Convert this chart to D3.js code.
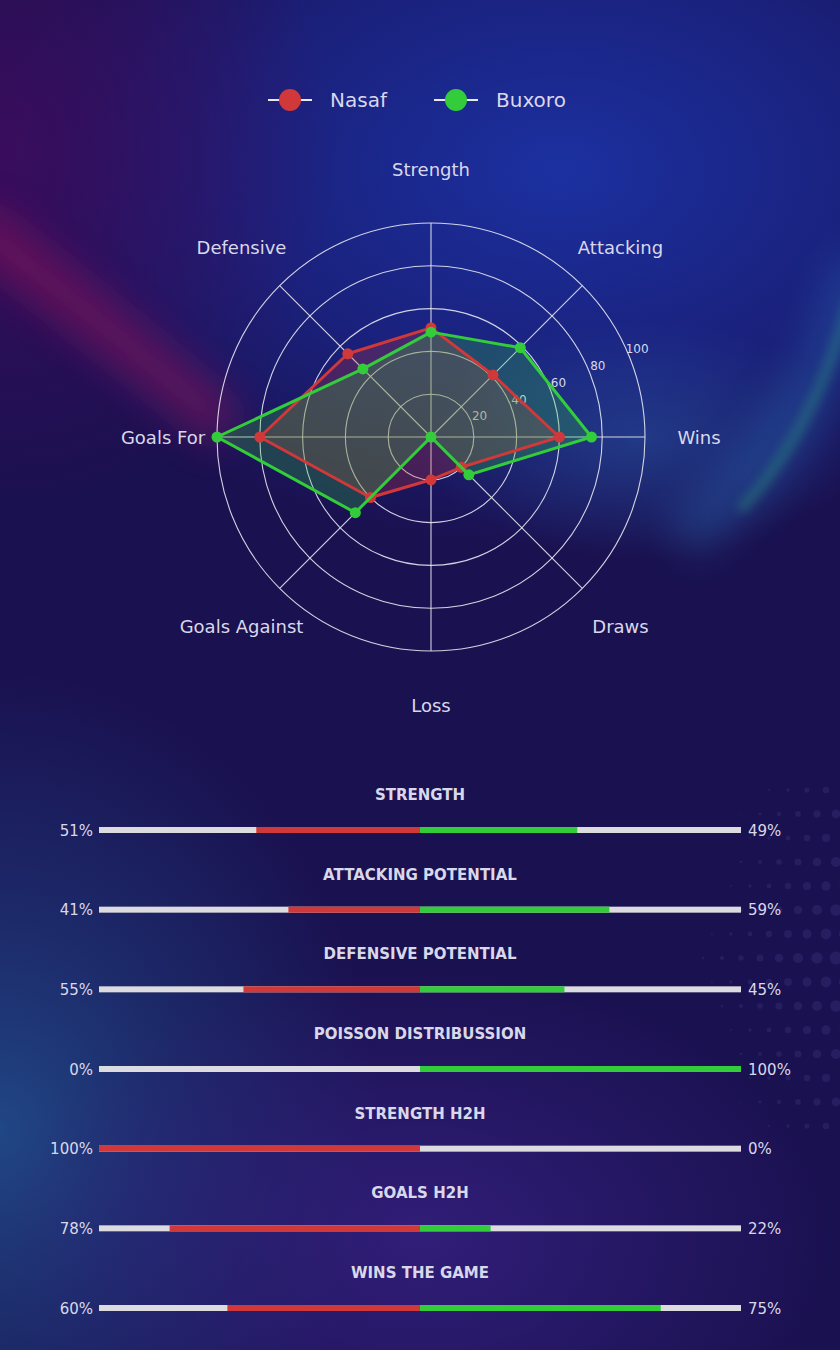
<!DOCTYPE html>
<html>
<head>
<meta charset="utf-8">
<script src="https://cdn.jsdelivr.net/npm/d3@7"></script>
<style>
  html, body { margin: 0; padding: 0; background: #1b1150; }
  svg { display: block; font-family: "DejaVu Sans", sans-serif; }
</style>
</head>
<body>
<svg id="chart" width="840" height="1350"></svg>
<script>
// radar data
const axes = ['Strength', 'Attacking', 'Wins', 'Draws', 'Loss', 'Goals Against', 'Goals For', 'Defensive'];
const nasafValues = [51, 41, 60, 20, 20, 40, 80, 55];
const buxoroValues = [49, 59, 75, 25, 0, 50, 100, 45];
const ringTicks = [20, 40, 60, 80, 100];

// comparison bars
const barTitles = ['STRENGTH', 'ATTACKING POTENTIAL', 'DEFENSIVE POTENTIAL', 'POISSON DISTRIBUSSION', 'STRENGTH H2H', 'GOALS H2H', 'WINS THE GAME'];
const homePct = [51, 41, 55, 0, 100, 78, 60];
const awayPct = [49, 59, 45, 100, 0, 22, 75];

const teams = ['Nasaf', 'Buxoro'];
const teamColors = {'Nasaf': '#d0383a', 'Buxoro': '#33cc3a'};
const textColor = '#d9d8ea';

let svg = d3.select('#chart');
let defs = svg.append('defs');

// ---- background ----
const radial = (id, stops) => {
    let g = defs.append('radialGradient').attr('id', id);
    stops.forEach(s => g.append('stop').attr('offset', s[0]).attr('stop-color', s[1]).attr('stop-opacity', s[2]));
};
radial('gBlue', [[0, '#1c34aa', 0.9], [0.55, '#1a2c9a', 0.6], [1, '#1a2c9a', 0]]);
radial('gPurple', [[0, '#3d0c5e', 0.9], [1, '#3d0c5e', 0]]);
radial('gBotBlue', [[0, '#22508e', 0.85], [0.5, '#1f3f80', 0.5], [1, '#1f3f80', 0]]);
radial('gBotPurple', [[0, '#352080', 0.85], [1, '#352080', 0]]);
radial('gTeal', [[0, '#2a5ea8', 0.45], [1, '#2a5ea8', 0]]);

const addBlur = (id, sd) => defs.append('filter').attr('id', id)
    .attr('x', '-50%').attr('y', '-50%').attr('width', '200%').attr('height', '200%')
    .append('feGaussianBlur').attr('stdDeviation', sd);
addBlur('blur', 20);
addBlur('blurSmall', 6);

let bg = svg.append('g').attr('class', 'background');
bg.append('rect').attr('width', 840).attr('height', 1350).attr('fill', '#1a1150');
bg.append('ellipse').attr('cx', 560).attr('cy', 170).attr('rx', 580).attr('ry', 380).attr('fill', 'url(#gBlue)');
bg.append('ellipse').attr('cx', 0).attr('cy', 150).attr('rx', 340).attr('ry', 360).attr('fill', 'url(#gPurple)');
bg.append('ellipse').attr('cx', 640).attr('cy', 440).attr('rx', 220).attr('ry', 120).attr('fill', 'url(#gTeal)');
bg.append('ellipse').attr('cx', 0).attr('cy', 1130).attr('rx', 380).attr('ry', 460).attr('fill', 'url(#gBotBlue)');
bg.append('ellipse').attr('cx', 420).attr('cy', 1240).attr('rx', 420).attr('ry', 280).attr('fill', 'url(#gBotPurple)');

// red glow swoosh on the left
bg.append('path')
    .attr('d', 'M -30 220 Q 100 320 230 430')
    .attr('fill', 'none').attr('stroke', '#b0145a').attr('stroke-width', 45).attr('opacity', 0.45)
    .attr('filter', 'url(#blur)');

// green glow swoosh on the right
bg.append('path')
    .attr('d', 'M 860 260 Q 810 440 680 540')
    .attr('fill', 'none').attr('stroke', '#2b7bc8').attr('stroke-width', 50).attr('opacity', 0.3)
    .attr('filter', 'url(#blur)');
bg.append('path')
    .attr('d', 'M 850 300 Q 815 430 740 510')
    .attr('fill', 'none').attr('stroke', '#2fc080').attr('stroke-width', 7).attr('opacity', 0.45)
    .attr('filter', 'url(#blurSmall)');

// faint dots pattern at the right
let dots = bg.append('g').attr('fill', '#6a5cb8').attr('opacity', 0.16);
for (let row = 0; row < 15; row++) {
    for (let col = 0; col < 9; col++) {
        let x = 845 - col * 19 - (row % 2) * 9;
        let y = 790 + row * 24;
        let r = Math.max(0, 6.5 - col * 0.75 - Math.abs(row - 7) * 0.35);
        if (r > 0.6) dots.append('circle').attr('cx', x).attr('cy', y).attr('r', r);
    }
}

// ---- legend ----
let legend = svg.append('g').attr('class', 'legend');
const legendX = [268, 434];
teams.forEach((t, i) => {
    let g = legend.append('g').attr('transform', 'translate(' + legendX[i] + ',100)');
    g.append('line').attr('x1', 0).attr('x2', 44).attr('stroke', '#e8e8f0').attr('stroke-width', 2);
    g.append('circle').attr('cx', 22).attr('r', 11).attr('fill', teamColors[t]);
    g.append('text').attr('x', 62).attr('y', 7).attr('fill', textColor).style('font-size', '20px').text(t);
});

// ---- radar ----
const cx = 431, cy = 437, R = 214;
let rScale = d3.scaleLinear().domain([0, 100]).range([0, R]);
let angle = i => i * 2 * Math.PI / axes.length;

let radar = svg.append('g').attr('transform', 'translate(' + cx + ',' + cy + ')');

radar.selectAll('circle.ring')
    .data(ringTicks)
    .enter()
    .append('circle')
    .attr('class', 'ring')
    .attr('r', d => rScale(d))
    .attr('fill', 'none')
    .attr('stroke', '#e6e6f0')
    .attr('stroke-width', 1.1)
    .attr('opacity', 0.9);

radar.selectAll('line.spoke')
    .data(axes)
    .enter()
    .append('line')
    .attr('class', 'spoke')
    .attr('x2', (d, i) => rScale(100) * Math.sin(angle(i)))
    .attr('y2', (d, i) => -rScale(100) * Math.cos(angle(i)))
    .attr('stroke', '#e6e6f0')
    .attr('stroke-width', 1.1)
    .attr('opacity', 0.9);

const tickAngle = 67 * Math.PI / 180;
radar.selectAll('text.tick')
    .data(ringTicks)
    .enter()
    .append('text')
    .attr('class', 'tick')
    .attr('x', d => (rScale(d) + 10) * Math.sin(tickAngle))
    .attr('y', d => -(rScale(d) + 10) * Math.cos(tickAngle))
    .attr('text-anchor', 'middle')
    .attr('dominant-baseline', 'central')
    .attr('fill', textColor)
    .style('font-size', '12px')
    .text(d => d);

radar.selectAll('text.axis-label')
    .data(axes)
    .enter()
    .append('text')
    .attr('class', 'axis-label')
    .attr('x', (d, i) => 268 * Math.sin(angle(i)))
    .attr('y', (d, i) => -268 * Math.cos(angle(i)))
    .attr('text-anchor', 'middle')
    .attr('dominant-baseline', 'central')
    .attr('fill', textColor)
    .style('font-size', '18px')
    .text(d => d);

let radialLine = d3.lineRadial()
    .angle((d, i) => angle(i))
    .radius(d => rScale(d))
    .curve(d3.curveLinearClosed);

const seriesData = [
    {team: 'Nasaf', values: nasafValues},
    {team: 'Buxoro', values: buxoroValues}
];

// fills first, then outlines and markers on top
radar.selectAll('path.area')
    .data(seriesData)
    .enter()
    .append('path')
    .attr('class', 'area')
    .attr('d', d => radialLine(d.values))
    .attr('fill', d => teamColors[d.team])
    .attr('fill-opacity', 0.25)
    .attr('stroke', 'none');

let series = radar.selectAll('g.series')
    .data(seriesData)
    .enter()
    .append('g')
    .attr('class', 'series');

series.append('path')
    .attr('d', d => radialLine(d.values))
    .attr('fill', 'none')
    .attr('stroke', d => teamColors[d.team])
    .attr('stroke-width', 3)
    .attr('stroke-linejoin', 'round');

series.selectAll('circle')
    .data(d => d.values.map(v => ({team: d.team, v: v})))
    .enter()
    .append('circle')
    .attr('cx', (d, i) => rScale(d.v) * Math.sin(angle(i)))
    .attr('cy', (d, i) => -rScale(d.v) * Math.cos(angle(i)))
    .attr('r', 5.5)
    .attr('fill', d => teamColors[d.team]);

// ---- comparison bars ----
const barLeft = 99, barRight = 741, barMid = (barLeft + barRight) / 2;
let half = d3.scaleLinear().domain([0, 100]).range([0, barMid - barLeft]);
let rowY = d3.scaleLinear().domain([0, barTitles.length - 1]).range([830, 1308]);

let bars = svg.selectAll('g.bar-row')
    .data(barTitles)
    .enter()
    .append('g')
    .attr('class', 'bar-row')
    .attr('transform', (d, i) => 'translate(0,' + rowY(i) + ')');

bars.append('text')
    .attr('x', 420)
    .attr('y', -30)
    .attr('text-anchor', 'middle')
    .attr('fill', textColor)
    .style('font-size', '15px')
    .style('font-weight', 'bold')
    .text(d => d);

bars.append('rect')
    .attr('x', barLeft).attr('y', -3)
    .attr('width', barRight - barLeft).attr('height', 6)
    .attr('fill', '#dcdce0');

bars.append('rect')
    .attr('x', (d, i) => barMid - half(homePct[i])).attr('y', -3)
    .attr('width', (d, i) => half(homePct[i])).attr('height', 6)
    .attr('fill', teamColors['Nasaf']);

bars.append('rect')
    .attr('x', barMid).attr('y', -3)
    .attr('width', (d, i) => half(awayPct[i])).attr('height', 6)
    .attr('fill', teamColors['Buxoro']);

bars.append('text')
    .attr('x', barLeft - 6).attr('y', 5.5)
    .attr('text-anchor', 'end')
    .attr('fill', textColor)
    .style('font-size', '15px')
    .text((d, i) => homePct[i] + '%');

bars.append('text')
    .attr('x', barRight + 7).attr('y', 5.5)
    .attr('fill', textColor)
    .style('font-size', '15px')
    .text((d, i) => awayPct[i] + '%');
</script>
</body>
</html>
